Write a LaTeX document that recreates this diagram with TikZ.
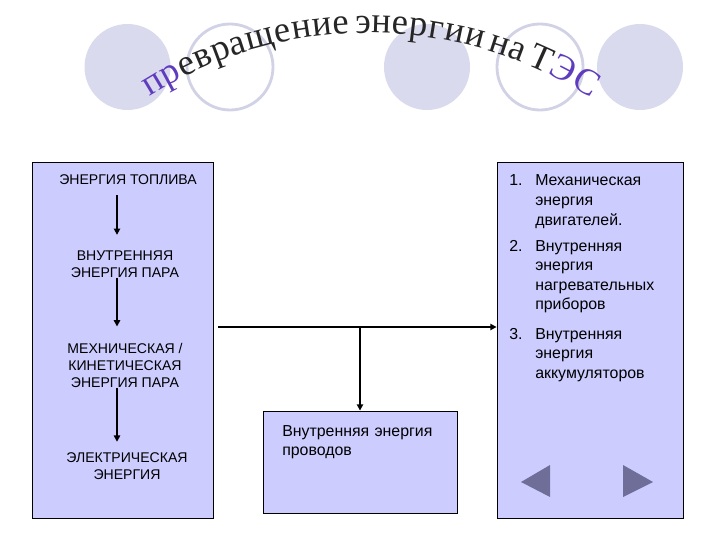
\documentclass[tikz,border=0pt]{standalone}
\usepackage{fontspec}
\setmainfont{Liberation Sans}
\newfontfamily\arcSerif{Liberation Serif}
\usetikzlibrary{arrows.meta}

\definecolor{panelFill}{RGB}{204,204,255}
\definecolor{dotFill}{RGB}{218,218,238}
\definecolor{dotRing}{RGB}{210,210,230}
\definecolor{navGrey}{RGB}{110,110,152}
\definecolor{titleViolet}{RGB}{95,60,190}

\newlength\glyphWd
\newcommand{\arcType}{\arcSerif\fontsize{26}{26}\selectfont}
\newcommand{\titleLetters}{п,р,е,в,р,а,щ,е,н,и,е,{\kern3pt},э,н,е,р,г,и,и,{\kern3pt},н,а,{\kern3pt},Т,Э,С}

\tikzset{
  panel/.style={draw=black, line width=0.6pt, fill=panelFill, inner sep=0pt},
  chainText/.style={font=\fontsize{10}{12.1}\selectfont, align=center, inner sep=0pt},
  listText/.style={font=\fontsize{11.3}{13.9}\selectfont, align=left, inner sep=0pt},
  titleChar/.style={anchor=base, inner sep=0pt},
  flow/.style={line width=1.1pt, -{Triangle[length=4.5pt,width=4.5pt]}},
}

\begin{document}
% widths of the title letters (in px of the slide), measured outside the picture
\xdef\arcTotal{0}
\foreach \ch [count=\i] in \titleLetters {
    \settowidth\glyphWd{\arcType\ch}
    \pgfmathsetmacro\chPx{\glyphWd/0.7113}
    \expandafter\xdef\csname glyphW\i\endcsname{\chPx}
    \pgfmathsetmacro\arcSum{\arcTotal+\chPx}
    \xdef\arcTotal{\arcSum}
}
\begin{tikzpicture}[x=0.025cm, y=0.025cm]
            \useasboundingbox (0,0) rectangle (720,540);

            % Define the macros.
            % \slideDot -- 1st argument: x of the circle centre, 2nd argument: options for filldraw.
            \newcommand{\slideDot}[2]{
                \filldraw[#2] (#1,473) circle[radius=43];
            }
            % \listEntry -- 1st argument: node name, 2nd argument: number,
            % 3rd argument: baseline of the first line, 4th argument: text.
            \newcommand{\listEntry}[4]{
                \node[listText, anchor=base west] (#1num) at (509,#3) {#2};
                \node[listText, anchor=base west, text width=140*0.025cm] (#1) at (535,#3) {#4};
            }

            % BACKGROUND CIRCLES
            \slideDot{127.5}{fill=dotFill, draw=none}
            \slideDot{230}{fill=white, draw=dotRing, line width=2pt}
            \slideDot{427}{fill=dotFill, draw=none}
            \slideDot{540}{fill=white, draw=dotRing, line width=2pt}
            \slideDot{640}{fill=dotFill, draw=none}

            % TITLE (arched): arc around (369,96), radius 411, from 122.3 to 57.3 degrees
            \pgfmathsetmacro\arcGap{(466-\arcTotal)/25}
            \xdef\arcPos{0}
            \foreach \ch [count=\i] in \titleLetters {
                \edef\chPx{\csname glyphW\i\endcsname}
                \pgfmathsetmacro\chAng{122.3-(\arcPos+\chPx/2)/411*57.29578}
                \pgfmathsetmacro\nextPos{\arcPos+\chPx+\arcGap}
                \xdef\arcPos{\nextPos}
                \def\chColor{black!85}
                \ifnum\i<3 \def\chColor{titleViolet}\fi
                \ifnum\i>24 \def\chColor{titleViolet}\fi
                \path (369,96) ++(\chAng:411) node[titleChar, rotate=\chAng-90, text=\chColor] (title\i) {\arcSerif\fontsize{26}{26}\selectfont\ch};
            }

            % LEFT COLUMN: chain of conversions
            \node[panel, minimum width=181*0.025cm, minimum height=356*0.025cm] (chainBox) at (122.5,200) {};
            \coordinate (chainAxis) at (117,200);
            \node[chainText] (fuel)   at (128,360)  {ЭНЕРГИЯ ТОПЛИВА};
            \node[chainText] (steam)  at (125,276)  {ВНУТРЕННЯЯ\\ЭНЕРГИЯ ПАРА};
            \node[chainText] (motion) at (125,175)  {МЕХНИЧЕСКАЯ /\\КИНЕТИЧЕСКАЯ\\ЭНЕРГИЯ ПАРА};
            \node[chainText] (power)  at (127,73.5) {ЭЛЕКТРИЧЕСКАЯ\\ЭНЕРГИЯ};

            \draw[flow, shorten <=7pt, shorten >=11pt] (fuel.south -| chainAxis) -- (steam.north -| chainAxis);
            \draw[flow, shorten >=11.4pt] (steam.south -| chainAxis) -- (motion.north -| chainAxis);
            \draw[flow, shorten <=0.7pt, shorten >=7.8pt] (motion.south -| chainAxis) -- (power.north -| chainAxis);

            % RIGHT COLUMN: consumers
            \node[panel, minimum width=186*0.025cm, minimum height=356*0.025cm] (useBox) at (590,200) {};
            \listEntry{engines}{1.}{354}{Механическая\\энергия\\двигателей.}
            \listEntry{heaters}{2.}{289}{Внутренняя\\энергия\\нагревательных\\приборов}
            \listEntry{cells}{3.}{201}{Внутренняя\\энергия\\аккумуляторов}

            % WIRES
            \node[panel, minimum width=194*0.025cm, minimum height=102*0.025cm] (wireBox) at (360,78) {};
            \node[listText, anchor=base west, text width=170*0.025cm, font=\fontsize{11.3}{14.2}\selectfont] (wireText) at (282,104) {Внутренняя энергия\\проводов};

            \coordinate (branch) at (218,213);
            \draw[flow] (branch) -- (branch -| useBox.west);
            \draw[flow] (branch -| wireBox.north) -- (wireBox.north);

            % NAVIGATION BUTTONS
            \fill[navGrey] (521,58) -- (550,75) -- (550,43) -- cycle;
            \fill[navGrey] (653,58) -- (623,75) -- (623,43) -- cycle;

\end{tikzpicture}
\end{document}
